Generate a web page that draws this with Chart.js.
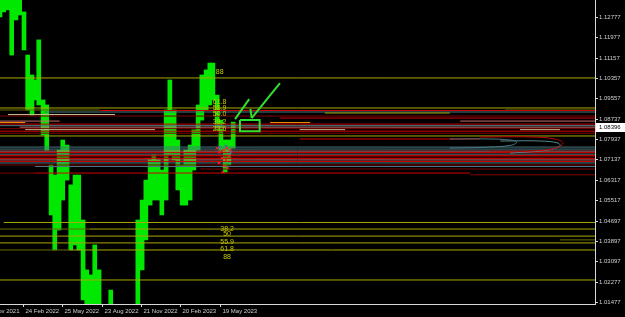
<!DOCTYPE html>
<html><head><meta charset="utf-8">
<script src="https://cdn.jsdelivr.net/npm/chart.js@4/dist/chart.umd.min.js"></script>
<style>html,body{margin:0;padding:0;background:#000;overflow:hidden}canvas{display:block}</style>
</head><body>
<canvas id="c" width="625" height="317"></canvas>
<script>
// ---------- data ----------
const sampleBar = [0,6,13,19,26,32,39,45,52,58,63,70,76,83,89,96,102,109,115,122,128,135,141,148,154,161,180,224,231,237,244,250,257,263,270,276,283,289,296,302,309,315,322,328,335,341,346,353,359,366,372,379];
const priceHigh = [1.1360,1.1360,1.1360,1.1360,1.1360,1.1360,1.1298,1.1127,1.1048,1.1028,1.1187,1.0949,1.0929,1.0691,1.0651,1.0750,1.0790,1.0770,1.0612,1.0651,1.0651,1.0473,1.0275,1.0255,1.0374,1.0275,1.0195,1.0473,1.0552,1.0631,1.0711,1.0731,1.0711,1.0671,1.0909,1.1028,1.0909,1.0790,1.0691,1.0750,1.0770,1.0830,1.0929,1.1048,1.1068,1.1095,1.1095,1.0968,1.0869,1.0790,1.0790,1.0861];
const priceLow  = [1.1278,1.1298,1.1306,1.1127,1.1266,1.1286,1.1147,1.0909,1.0889,1.0949,1.0929,1.0810,1.0750,1.0493,1.0354,1.0433,1.0552,1.0631,1.0354,1.0374,1.0354,1.0156,1.0050,1.0050,1.0050,1.0050,1.0050,1.0050,1.0275,1.0394,1.0532,1.0552,1.0552,1.0493,1.0552,1.0731,1.0711,1.0592,1.0532,1.0532,1.0552,1.0671,1.0750,1.0869,1.0909,1.0929,1.0949,1.0830,1.0750,1.0663,1.0691,1.0758];

const dateTickBar = [-27,37,101,165,229,293,357];
const dateTickLabel = ['24 Nov 2021','24 Feb 2022','25 May 2022','23 Aug 2022','21 Nov 2022','20 Feb 2023','19 May 2023'];
const priceTicks = [1.12777,1.11977,1.11157,1.10357,1.09557,1.08737,1.07937,1.07137,1.06317,1.05517,1.04697,1.03897,1.03097,1.02277,1.01477];
const lastPrice = 1.08396;

// horizontal levels: [price, fromBar, toBar]
const yellowLines = [[1.1036,0,967],[1.0917,0,967],[1.0897,528,731],[1.0806,0,967],[1.0463,6,967],[1.0437,146,967],[1.0409,0,967],[1.0382,0,967],[1.0354,114,967],[1.0235,0,967]];
const oliveLines  = [[1.0909,0,162],[1.0909,821,967],[1.0437,0,146],[1.0354,0,114],[1.0394,910,967]];
const redLines    = [[1.0907,162,967],[1.0877,455,967],[1.0853,0,967],[1.0825,0,967],[1.0794,487,780],[1.0740,0,967],[1.0729,0,967],[1.0717,0,967],[1.0705,0,967],[1.0659,57,764]];
const darkRedLines= [[1.0885,0,967],[1.0835,0,967],[1.0817,0,967],[1.0723,0,967],[1.0691,0,967],[1.0675,325,967],[1.0659,0,57],[1.0652,764,967]];
const salmonLines = [[1.0865,0,97],[1.0865,748,967],[1.0841,32,967],[1.0746,0,967],[1.0711,0,967]];
const tealLines   = [[1.0901,73,967],[1.0847,0,967],[1.0762,0,967],[1.0754,0,967],[1.0734,0,967],[1.0699,0,967],[1.0685,57,967]];
const orangeLines = [[1.0859,0,41],[1.0859,439,504]];
const paleLines   = [[1.0891,13,187],[1.0831,41,252],[1.0831,487,561],[1.0831,845,910]];

// arcs [bar, price]
const arcTeal1 = [[731,1.0794],[796,1.0794],[829,1.0790],[840,1.0782],[832,1.0770],[796,1.0762],[731,1.0758]];
const arcRed   = [[780,1.0802],[861,1.0802],[902,1.0794],[915,1.0778],[904,1.0758],[861,1.0746],[796,1.0742]];
const arcTeal2 = [[813,1.0786],[877,1.0786],[907,1.0778],[910,1.0766],[890,1.0750],[829,1.0738]];

// signal markers [bar, price]
const redMarks  = [[353,1.0758],[357,1.0742],[364,1.0750],[369,1.0758],[361,1.0719],[367,1.0711],[372,1.0726],[356,1.0699],[364,1.0687],[370,1.0679],[362,1.0663],[374,1.0750]];
const blueMarks = [[356,1.0762],[367,1.0766],[375,1.0742]];

// fibonacci labels
const fibUpperText  = ['88','61.8','55.9','50.0','38.2','23.6'];
const fibUpperPrice = [1.1059,1.0941,1.0917,1.0893,1.0861,1.0834];
const fibUpperBar = 357;
const fibLowerText  = ['38.2','50','55.9','61.8','88'];
const fibLowerPrice = [1.0437,1.0417,1.0385,1.0358,1.0326];
const fibLowerBar = 369;

// hand-drawn arrow (bar, price)
const arrowShaft = [[409,1.0877],[455,1.1016]];
const arrowHead  = [[407,1.0913],[409,1.0877]];
const arrowTick  = [[382,1.0873],[405,1.0952]];
const arrowBox   = [[390,1.0869],[422,1.0869],[422,1.0825],[390,1.0825],[390,1.0869]];

// ---------- chart ----------
function hl(arr, color, order) {
  return arr.map(([p,a,b]) => ({type:'line', data:[{x:a,y:p},{x:b,y:p}], borderColor:color, borderWidth:1, pointRadius:0, order:order}));
}
function poly(arr, color, w, tension) {
  return {type:'line', data:arr.map(([x,y])=>({x,y})), borderColor:color, borderWidth:w, pointRadius:0, tension:tension||0, order:1};
}
const datasets = [
  {type:'bar', data:sampleBar.map((b,i)=>({x:b,y:[priceLow[i],priceHigh[i]]})), backgroundColor:'#00e800', borderWidth:0, barThickness:4, grouped:false, order:10},
  ...hl(oliveLines,'#6a6a00',6),
  ...hl(tealLines,'#4a7880',5),
  ...hl(darkRedLines,'#800000',5),
  ...hl(salmonLines,'#c86a6a',5),
  ...hl(redLines,'#d00000',4),
  ...hl(paleLines,'#c8c090',4),
  ...hl(orangeLines,'#ff9a00',4),
  ...hl(yellowLines,'#a8a800',3),
  poly(arcTeal1,'#4a7880',1,0.4),
  poly(arcRed,'#c00000',1,0.4),
  poly(arcTeal2,'#5a8890',1,0.4),
  {type:'line', data:redMarks.map(([x,y])=>({x,y})), showLine:false, pointStyle:'crossRot', pointRadius:2, pointBorderColor:'#ff2020', pointBorderWidth:1, order:0},
  {type:'line', data:blueMarks.map(([x,y])=>({x,y})), showLine:false, pointStyle:'crossRot', pointRadius:2, pointBorderColor:'#4060c0', pointBorderWidth:1, order:0},
  poly(arrowShaft,'#30e030',2), poly(arrowHead,'#30e030',2), poly(arrowTick,'#30e030',2), poly(arrowBox,'#30e030',2)
];

const FONT = '6px "Liberation Sans", Arial, sans-serif';
const mtPlugin = {
  id:'mt',
  beforeDraw(chart){ const c=chart.ctx; c.save(); c.fillStyle='#000'; c.fillRect(0,0,chart.width,chart.height); c.restore(); },
  afterDatasetsDraw(chart){
    const {ctx, scales:{x,y}} = chart;
    ctx.save();
    ctx.fillStyle='#c8c800'; ctx.font='7px "Liberation Sans", Arial, sans-serif'; ctx.textAlign='center'; ctx.textBaseline='middle';
    fibUpperText.forEach((t,i)=>ctx.fillText(t, x.getPixelForValue(fibUpperBar), y.getPixelForValue(fibUpperPrice[i])));
    fibLowerText.forEach((t,i)=>ctx.fillText(t, x.getPixelForValue(fibLowerBar), y.getPixelForValue(fibLowerPrice[i])));
    ctx.restore();
  },
  afterDraw(chart){
    const {ctx, chartArea:a, scales:{x,y}} = chart;
    ctx.save();
    ctx.strokeStyle='#d8d8d8'; ctx.lineWidth=1;
    ctx.beginPath(); ctx.moveTo(a.right+0.5,0); ctx.lineTo(a.right+0.5,a.bottom+1); ctx.moveTo(0,a.bottom+0.5); ctx.lineTo(a.right+1,a.bottom+0.5); ctx.stroke();
    ctx.font=FONT; ctx.fillStyle='#d0d0d0'; ctx.textBaseline='middle'; ctx.textAlign='left';
    priceTicks.forEach(v=>{ const py=Math.round(y.getPixelForValue(v))+0.5; ctx.beginPath(); ctx.moveTo(a.right,py); ctx.lineTo(a.right+3,py); ctx.stroke(); ctx.fillText(v.toFixed(5), a.right+4, py); });
    dateTickBar.forEach((b,i)=>{ const px=Math.round(x.getPixelForValue(b))+0.5; ctx.beginPath(); ctx.moveTo(px,a.bottom); ctx.lineTo(px,a.bottom+3); ctx.stroke(); ctx.fillText(dateTickLabel[i], px+2, a.bottom+7); });
    const ly=Math.round(y.getPixelForValue(lastPrice));
    ctx.fillStyle='#ffffff'; ctx.fillRect(a.right+1, ly-4, 30, 9);
    ctx.fillStyle='#000'; ctx.fillText(lastPrice.toFixed(5), a.right+4, ly+0.5);
    ctx.restore();
  }
};

new Chart(document.getElementById('c'), {
  type:'bar',
  data:{datasets},
  options:{
    responsive:false, animation:false, devicePixelRatio:1,
    layout:{padding:0, autoPadding:false},
    plugins:{legend:{display:false}, tooltip:{enabled:false}},
    scales:{
      x:{type:'linear', min:0, max:967, offset:false, ticks:{display:false}, grid:{display:false}, border:{display:false}, afterFit:s=>{s.height=13;}},
      y:{type:'linear', position:'right', min:1.01398, max:1.13451, ticks:{display:false}, grid:{display:false}, border:{display:false}, afterFit:s=>{s.width=30;}}
    }
  },
  plugins:[mtPlugin]
});
</script></body></html>
